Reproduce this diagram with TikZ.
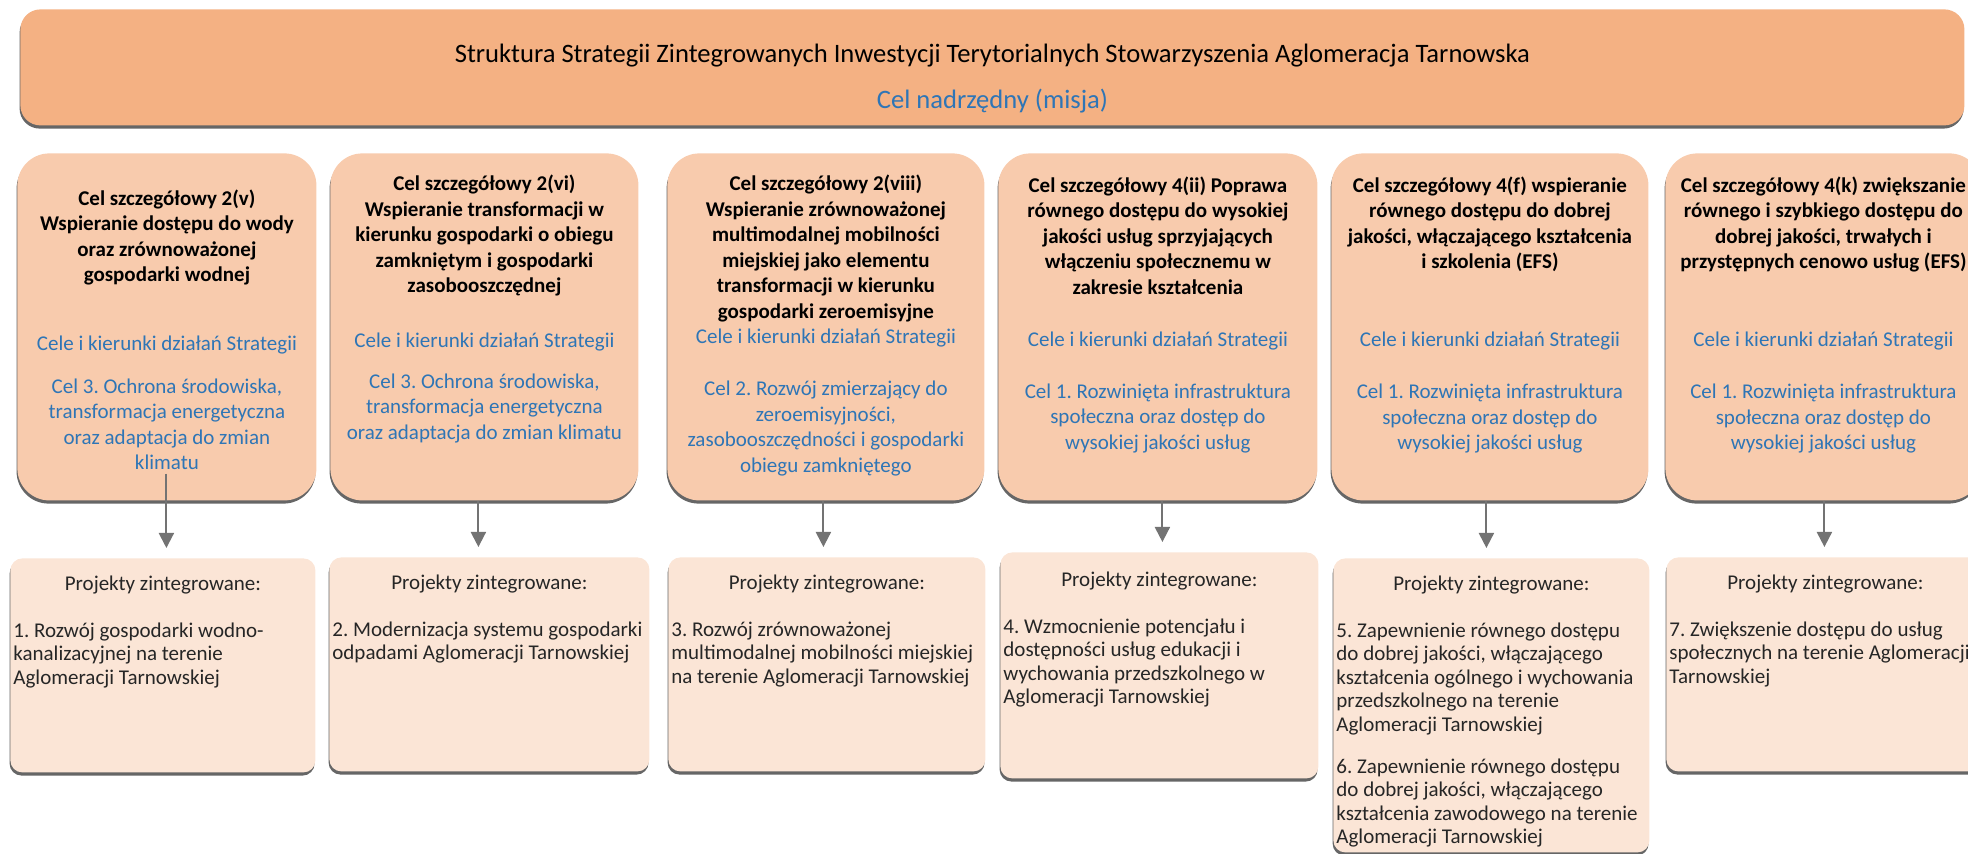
\documentclass[tikz,border=0pt]{standalone}
\usepackage{fontspec}
\setmainfont{Carlito}
\usetikzlibrary{
    arrows.meta,
    shadows
    }

\definecolor{bannerfill}{HTML}{F4B183}
\definecolor{goalfill}{HTML}{F8CBAD}
\definecolor{projfill}{HTML}{FBE5D6}
\definecolor{goalblue}{HTML}{2E75B6}

% centred block for the goals, ragged block for the projects
\newcommand{\celtext}[3][12.75pt]{\parbox[t]{#2}{\setlength{\baselineskip}{#1}\centering #3}}
\newcommand{\projtext}[2]{\parbox[t]{#1}{\setlength{\baselineskip}{11.75pt}\raggedright\makebox[\linewidth]{Projekty zintegrowane:}\\[11.75pt]#2}}

\begin{document}
\frenchspacing
\begin{tikzpicture}[x=0.5pt, y=-0.5pt]
\useasboundingbox (0,0) rectangle (1968,854);

\tikzset{box shadow/.style =
        {
            drop shadow={shadow xshift=-0.4pt, shadow yshift=-1.6pt, opacity=1, fill=black!60}
        }
}

\tikzset{banner/.style =
        {
            rectangle,
            rounded corners=10pt,
            fill=bannerfill,
            box shadow,
            font=\fontsize{13.3pt}{23pt}\selectfont,
            anchor=north west,
            inner xsep=0pt,
            inner ysep=0pt,
            text height=26.5pt,
            text depth=31.5pt
        }
}

\tikzset{goal/.style =
        {
            rectangle,
            rounded corners=16pt,
            fill=goalfill,
            box shadow,
            font=\fontsize{10.5pt}{12.75pt}\selectfont,
            anchor=north west,
            inner xsep=2pt,
            inner ysep=0pt,
            text height=18.75pt,
            text depth=154.75pt
        }
}

\tikzset{project/.style =
        {
            rectangle,
            rounded corners=6pt,
            fill=projfill,
            box shadow,
            text=black!85,
            font=\fontsize{10.5pt}{11.75pt}\selectfont,
            anchor=north west,
            inner xsep=1.5pt,
            inner ysep=0pt,
            text height=16pt,
            text depth=91pt
        }
}

\tikzset{flow/.style =
        {
            line width=1pt,
            draw=black!55,
            fill=black!55,
            -{Triangle[length=7.5pt, width=7.5pt]},
            shorten >=5pt
        }
}

% misja
\node[banner] (misja) at (20,9)
    {\celtext[23pt]{972pt}{Struktura Strategii Zintegrowanych Inwestycji Terytorialnych Stowarzyszenia Aglomeracja Tarnowska\\
     \color{goalblue}Cel nadrzędny (misja)}};

% cele szczegolowe
\node[goal, text height=26pt, text depth=147.5pt] (cel-1) at (17,153)
    {\celtext{145.5pt}{\bfseries Cel szczegółowy 2(v)\\Wspieranie dostępu do wody\\oraz zrównoważonej\\gospodarki wodnej\\[21.5pt]
     \mdseries\color{goalblue}Cele i kierunki działań Strategii\\[8.75pt]
     Cel 3. Ochrona środowiska,\\transformacja energetyczna\\oraz adaptacja do zmian\\klimatu}};

\node[goal] (cel-2) at (330,153)
    {\celtext{150pt}{\bfseries Cel szczegółowy 2(vi)\\Wspieranie transformacji w\\kierunku gospodarki o obiegu\\zamkniętym i gospodarki\\zasobooszczędnej\\[14.6pt]
     \mdseries\color{goalblue}Cele i kierunki działań Strategii\\[7.5pt]
     Cel 3. Ochrona środowiska,\\transformacja energetyczna\\oraz adaptacja do zmian klimatu}};

\node[goal] (cel-3) at (667,153)
    {\celtext{154.5pt}{\bfseries Cel szczegółowy 2(viii)\\Wspieranie zrównoważonej\\multimodalnej mobilności\\miejskiej jako elementu\\transformacji w kierunku\\gospodarki zeroemisyjne\\
     \mdseries\color{goalblue}Cele i kierunki działań Strategii\\[13.25pt]
     Cel 2. Rozwój zmierzający do\\zeroemisyjności,\\zasobooszczędności i gospodarki\\obiegu zamkniętego}};

\node[goal, text height=19.5pt, text depth=154pt] (cel-4) at (998,153)
    {\celtext{155.5pt}{\bfseries Cel szczegółowy 4(ii) Poprawa\\równego dostępu do wysokiej\\jakości usług sprzyjających\\włączeniu społecznemu w\\zakresie kształcenia\\[13.25pt]
     \mdseries\color{goalblue}Cele i kierunki działań Strategii\\[13.25pt]
     Cel 1. Rozwinięta infrastruktura\\społeczna oraz dostęp do\\wysokiej jakości usług}};

\node[goal, text height=19.5pt, text depth=154pt] (cel-5) at (1331,153)
    {\celtext{154.5pt}{\bfseries Cel szczegółowy 4(f) wspieranie\\równego dostępu do dobrej\\jakości, włączającego kształcenia\\i szkolenia (EFS)\\[26.25pt]
     \mdseries\color{goalblue}Cele i kierunki działań Strategii\\[13.25pt]
     Cel 1. Rozwinięta infrastruktura\\społeczna oraz dostęp do\\wysokiej jakości usług}};

\node[goal, text height=19.5pt, text depth=154pt] (cel-6) at (1665,153)
    {\celtext{154pt}{\bfseries Cel szczegółowy 4(k) zwiększanie\\równego i szybkiego dostępu do\\dobrej jakości, trwałych i\\przystępnych cenowo usług (EFS)\\[26.25pt]
     \mdseries\color{goalblue}Cele i kierunki działań Strategii\\[13.25pt]
     Cel 1. Rozwinięta infrastruktura\\społeczna oraz dostęp do\\wysokiej jakości usług}};

% projekty zintegrowane
\node[project] (proj-1) at (10,558)
    {\projtext{149.5pt}{1. Rozwój gospodarki wodno-\\kanalizacyjnej na terenie\\Aglomeracji Tarnowskiej}};

\node[project] (proj-2) at (329,557)
    {\projtext{157pt}{2. Modernizacja systemu gospodarki\\odpadami Aglomeracji Tarnowskiej}};

\node[project] (proj-3) at (668,557)
    {\projtext{155.5pt}{3. Rozwój zrównoważonej\\multimodalnej mobilności miejskiej\\na terenie Aglomeracji Tarnowskiej}};

\node[project, text height=17pt, text depth=96pt] (proj-4) at (1000,552)
    {\projtext{156pt}{4. Wzmocnienie potencjału i\\dostępności usług edukacji i\\wychowania przedszkolnego w\\Aglomeracji Tarnowskiej}};

\node[project, text depth=131pt] (proj-5) at (1333,558)
    {\projtext{155pt}{5. Zapewnienie równego dostępu\\do dobrej jakości, włączającego\\kształcenia ogólnego i wychowania\\przedszkolnego na terenie\\Aglomeracji Tarnowskiej\\[9.25pt]
     6. Zapewnienie równego dostępu\\do dobrej jakości, włączającego\\kształcenia zawodowego na terenie\\Aglomeracji Tarnowskiej}};

\node[project] (proj-6) at (1666,557)
    {\projtext{156pt}{7. Zwiększenie dostępu do usług\\społecznych na terenie Aglomeracji\\Tarnowskiej}};

\foreach \n / \dx / \s in
    {1/-0.25/-13.5,
        2/-3/0,
        3/-1.25/0,
        4/2.25/0,
        5/-1.75/0,
        6/0.5/0}
    {
        \draw [flow, shorten <=\s pt] ([xshift=\dx pt]cel-\n.south) -- ([xshift=\dx pt]cel-\n.south |- proj-\n.north);
    }

\end{tikzpicture}
\end{document}
